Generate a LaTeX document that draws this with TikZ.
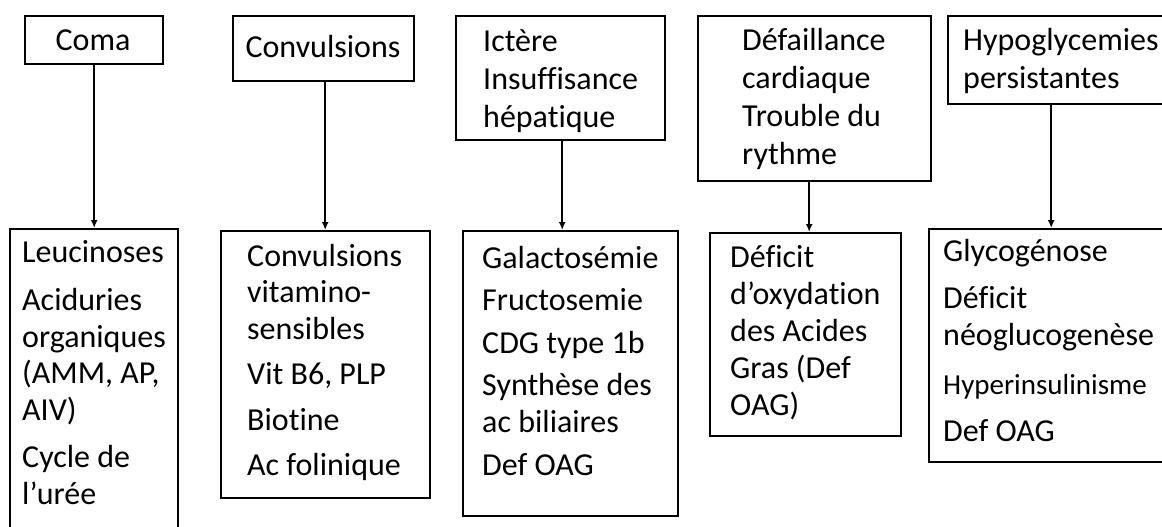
\documentclass[tikz,border=0pt]{standalone}
\usepackage{fontspec}
\setmainfont{Carlito}[Ligatures={NoCommon}]
\usetikzlibrary{arrows.meta}
\begin{document}
\begin{tikzpicture}[x=1pt,y=-1pt,
  boxc/.style={draw, line width=2.4pt, inner sep=0, anchor=north west},
  txt/.style={anchor=north west, inner sep=0, align=left},
  fa/.style={font=\fontsize{32}{38}\selectfont},
  fb/.style={font=\fontsize{32}{36.5}\selectfont},
  fc/.style={font=\fontsize{32}{37}\selectfont},
  arr/.style={line width=2pt, -{Latex[length=8pt,width=7pt]}}]
\useasboundingbox (0,0) rectangle (1162,527);
\clip (0,0) rectangle (1162,527);
% top boxes
\node[boxc, minimum width=138pt, minimum height=48pt] (T1) at (24,15) {};
\node[boxc, minimum width=181pt, minimum height=65pt] (T2) at (232,15) {};
\node[boxc, minimum width=209pt, minimum height=124pt] (T3) at (455,15) {};
\node[boxc, minimum width=233pt, minimum height=165pt] (T4) at (697,15) {};
\node[boxc, minimum width=219pt, minimum height=88pt] (T5) at (947,15) {};
% bottom boxes
\node[boxc, minimum width=168pt, minimum height=330pt] (B1) at (9,228) {};
\node[boxc, minimum width=209pt, minimum height=267pt] (B2) at (220,230) {};
\node[boxc, minimum width=215pt, minimum height=285pt] (B3) at (462,230) {};
\node[boxc, minimum width=191pt, minimum height=203pt] (B4) at (709,232) {};
\node[boxc, minimum width=240pt, minimum height=233pt] (B5) at (928,228) {};
% top texts
\node[anchor=base, inner sep=0, fa] (t1) at (93,51) {Coma};
\node[anchor=base, inner sep=0, fa] (t2) at (323,58) {Convulsions};
\node[txt, fa] (t3) at (483,21) {\rule{0pt}{30pt}Ictère\\Insuffisance\\hépatique};
\node[txt, fa] (t4) at (742,20) {\rule{0pt}{30pt}Défaillance\\cardiaque\\Trouble du\\rythme};
\node[txt, fa] (t5) at (963,20) {\rule{0pt}{30pt}Hypoglycemies\\persistantes};
% bottom texts
\node[txt, fb] (b1) at (22,232) {\rule{0pt}{30pt}Leucinoses\\[12pt]Aciduries\\organiques\\(AMM, AP,\\AIV)\\[11pt]Cycle de\\l’urée};
\node[txt, fb] (b2) at (247,236) {\rule{0pt}{30pt}Convulsions\\vitamino-\\sensibles\\[9pt]Vit B6, PLP\\[9pt]Biotine\\[9pt]Ac folinique};
\node[txt, fb] (b3) at (482,238) {\rule{0pt}{30pt}Galactosémie\\[6pt]Fructosemie\\[6pt]CDG type 1b\\[6pt]Synthèse des\\ac biliaires\\[7pt]Def OAG};
\node[txt, fc] (b4) at (730,237) {\rule{0pt}{30pt}Déficit\\d’oxydation\\des Acides\\Gras (Def\\OAG)};
\node[txt, fc] (b5) at (943,231) {\rule{0pt}{30pt}Glycogénose\\[10pt]Déficit\\néoglucogenèse\\[12pt]{\fontsize{29}{37}\selectfont Hyperinsulinisme}\\[10pt]Def OAG};
% arrows
\draw[arr] (T1.south) -- (T1.south |- B1.north);
\draw[arr] ([xshift=1.5pt]T2.south) -- ([xshift=1.5pt]T2.south |- B2.north);
\draw[arr] ([xshift=1.5pt]T3.south) -- ([xshift=1.5pt]T3.south |- B3.north);
\draw[arr] ([xshift=-5.5pt]T4.south) -- ([xshift=-5.5pt]T4.south |- B4.north);
\draw[arr] ([xshift=-6.5pt]T5.south) -- ([xshift=-6.5pt]T5.south |- B5.north);
\end{tikzpicture}
\end{document}
